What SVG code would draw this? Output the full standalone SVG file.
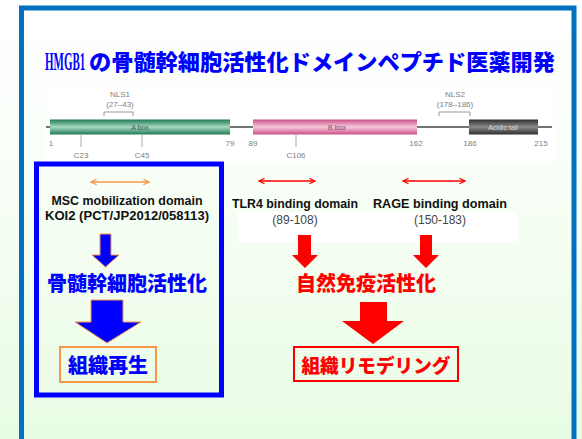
<svg xmlns="http://www.w3.org/2000/svg" width="582" height="439" viewBox="0 0 582 439">
  <defs>
    <linearGradient id="bg" x1="0" y1="0" x2="0" y2="1">
      <stop offset="0" stop-color="#FFFFFF"/>
      <stop offset="0.3" stop-color="#FBFFFA"/>
      <stop offset="1" stop-color="#E8FCE4"/>
    </linearGradient>
    <linearGradient id="gA" x1="0" y1="0" x2="0" y2="1">
      <stop offset="0" stop-color="#1F7A55"/>
      <stop offset="0.5" stop-color="#A8D8BE"/>
      <stop offset="1" stop-color="#1F7A55"/>
    </linearGradient>
    <linearGradient id="gB" x1="0" y1="0" x2="0" y2="1">
      <stop offset="0" stop-color="#CC4F86"/>
      <stop offset="0.5" stop-color="#F6CADC"/>
      <stop offset="1" stop-color="#CC4F86"/>
    </linearGradient>
    <linearGradient id="gC" x1="0" y1="0" x2="0" y2="1">
      <stop offset="0" stop-color="#2E2E2E"/>
      <stop offset="0.5" stop-color="#8A8A8A"/>
      <stop offset="1" stop-color="#2E2E2E"/>
    </linearGradient>
    <marker id="mo" viewBox="0 0 10 10" refX="9" refY="5" markerWidth="7" markerHeight="7" orient="auto-start-reverse" markerUnits="userSpaceOnUse">
      <path d="M1,1 L9,5 L1,9" fill="none" stroke="#F79646" stroke-width="1.6"/>
    </marker>
    <marker id="mr" viewBox="0 0 10 10" refX="9" refY="5" markerWidth="7" markerHeight="7" orient="auto-start-reverse" markerUnits="userSpaceOnUse">
      <path d="M1,1 L9,5 L1,9" fill="none" stroke="#FF0000" stroke-width="1.6"/>
    </marker>
  </defs>
  <style>
    .jp { font-family: "Noto Sans CJK JP", "Noto Sans", sans-serif; font-weight: 900; }
    .en { font-family: "Liberation Sans", Arial, sans-serif; }
    .num { font-family: "Liberation Sans", Arial, sans-serif; font-size: 8px; fill: #808080; }
    .dom { font-family: "Liberation Sans", Arial, sans-serif; font-size: 12px; font-weight: bold; fill: #111; }
    .rng { font-family: "Liberation Sans", Arial, sans-serif; font-size: 12px; fill: #444; }
    .tick { stroke: #AAAAAA; stroke-width: 1; }
  </style>

  <rect x="0" y="0" width="582" height="439" fill="url(#bg)"/>
  <rect x="21.5" y="8" width="552.5" height="440" fill="none" stroke="#0070C0" stroke-width="5"/>

  <g id="title">
    <text transform="translate(45,70) scale(0.44,1)" x="0" y="0" font-family="Liberation Serif, serif" font-weight="bold" font-size="25" fill="#0000FF">HMGB1</text>
    <text x="89" y="70" class="jp" font-size="22" fill="#0000FF" textLength="466" lengthAdjust="spacingAndGlyphs">の骨髄幹細胞活性化ドメインペプチド医薬開発</text>
  </g>

  <g id="protein-map">
    <rect x="45" y="85" width="510" height="77" fill="#FFFFFF"/>
    <line x1="46" y1="127" x2="552" y2="127" stroke="#444" stroke-width="1.5"/>
    <rect x="50" y="119.5" width="180" height="15" fill="url(#gA)"/>
    <rect x="253" y="119.5" width="164" height="15" fill="url(#gB)"/>
    <rect x="469" y="119.5" width="69" height="15" fill="url(#gC)"/>
    <text x="140" y="130" text-anchor="middle" class="en" font-size="7" fill="#3E5E50">A box</text>
    <text x="337" y="130" text-anchor="middle" class="en" font-size="7" fill="#8A4A66">B box</text>
    <text x="503" y="130" text-anchor="middle" class="en" font-size="7" fill="#DDDDDD">Acidic tail</text>
    <text x="120" y="97" text-anchor="middle" class="num">NLS1</text>
    <text x="120" y="107" text-anchor="middle" class="num">(27–43)</text>
    <path d="M104,116 V112 H133 V116" fill="none" stroke="#999" stroke-width="1"/>
    <text x="455" y="97" text-anchor="middle" class="num">NLS2</text>
    <text x="455" y="107" text-anchor="middle" class="num">(178–186)</text>
    <path d="M439,116 V112 H470 V116" fill="none" stroke="#999" stroke-width="1"/>
    <line class="tick" x1="81" y1="135" x2="81" y2="147"/>
    <line class="tick" x1="142" y1="135" x2="142" y2="147"/>
    <line class="tick" x1="296" y1="135" x2="296" y2="147"/>
    <text x="51" y="146" text-anchor="middle" class="num">1</text>
    <text x="230" y="146" text-anchor="middle" class="num">79</text>
    <text x="253" y="146" text-anchor="middle" class="num">89</text>
    <text x="416" y="146" text-anchor="middle" class="num">162</text>
    <text x="470" y="146" text-anchor="middle" class="num">186</text>
    <text x="541" y="146" text-anchor="middle" class="num">215</text>
    <text x="81" y="158" text-anchor="middle" class="num">C23</text>
    <text x="142" y="158" text-anchor="middle" class="num">C45</text>
    <text x="296" y="158" text-anchor="middle" class="num">C106</text>
  </g>

  <g id="msc-domain">
    <rect x="36.5" y="164" width="185" height="231" fill="none" stroke="#0000FF" stroke-width="5"/>
    <text x="127" y="205" text-anchor="middle" class="dom" textLength="151" lengthAdjust="spacingAndGlyphs">MSC mobilization domain</text>
    <text x="127" y="220" text-anchor="middle" class="dom" textLength="164" lengthAdjust="spacingAndGlyphs">KOI2 (PCT/JP2012/058113)</text>
    <text x="127" y="291" text-anchor="middle" class="jp" font-size="20" fill="#0000FF">骨髄幹細胞活性化</text>
  </g>

  <g id="tissue-regeneration">
    <rect x="60" y="347" width="96" height="35" fill="none" stroke="#F79646" stroke-width="2"/>
    <text x="108" y="373" text-anchor="middle" class="jp" font-size="20" fill="#0000FF">組織再生</text>
  </g>

  <g id="tlr4-domain">
    <rect x="237" y="212" width="280" height="30" fill="#FFFFFF"/>
    <text x="295" y="208" text-anchor="middle" class="dom" textLength="126" lengthAdjust="spacingAndGlyphs">TLR4 binding domain</text>
    <text x="295" y="224" text-anchor="middle" class="rng">(89-108)</text>
  </g>

  <g id="rage-domain">
    <text x="440" y="208" text-anchor="middle" class="dom" textLength="134" lengthAdjust="spacingAndGlyphs">RAGE binding domain</text>
    <text x="440" y="224" text-anchor="middle" class="rng">(150-183)</text>
  </g>

  <g id="innate-immunity">
    <text x="366" y="291" text-anchor="middle" class="jp" font-size="20" fill="#FF0000">自然免疫活性化</text>
  </g>

  <g id="tissue-remodeling">
    <rect x="294" y="347" width="164" height="34" fill="none" stroke="#FF0000" stroke-width="2"/>
    <text x="376" y="373" text-anchor="middle" class="jp" font-size="19" fill="#FF0000" textLength="149" lengthAdjust="spacingAndGlyphs">組織リモデリング</text>
  </g>

  <g id="connectors">
    <line x1="91" y1="182" x2="149" y2="182" stroke="#F79646" stroke-width="1.6" marker-start="url(#mo)" marker-end="url(#mo)"/>
    <line x1="259" y1="181" x2="315" y2="181" stroke="#FF0000" stroke-width="1.6" marker-start="url(#mr)" marker-end="url(#mr)"/>
    <line x1="403" y1="181" x2="465" y2="181" stroke="#FF0000" stroke-width="1.6" marker-start="url(#mr)" marker-end="url(#mr)"/>
    <polygon points="100,234 111,234 111,255 119,255 105.5,267 92,255 100,255" fill="#0000FF" stroke="#F79646" stroke-width="1"/>
    <polygon points="91,300 123,300 123,322 141,322 107,343 75,322 91,322" fill="#0000FF" stroke="#F79646" stroke-width="1"/>
    <polygon points="298,235 311,235 311,255 318,255 305,268 292,255 298,255" fill="#FF0000"/>
    <polygon points="420,235 432,235 432,255 439,255 426,268 413,255 420,255" fill="#FF0000"/>
    <polygon points="360,302 387,302 387,321 404,321 373,344 342,321 360,321" fill="#FF0000"/>
  </g>
</svg>
